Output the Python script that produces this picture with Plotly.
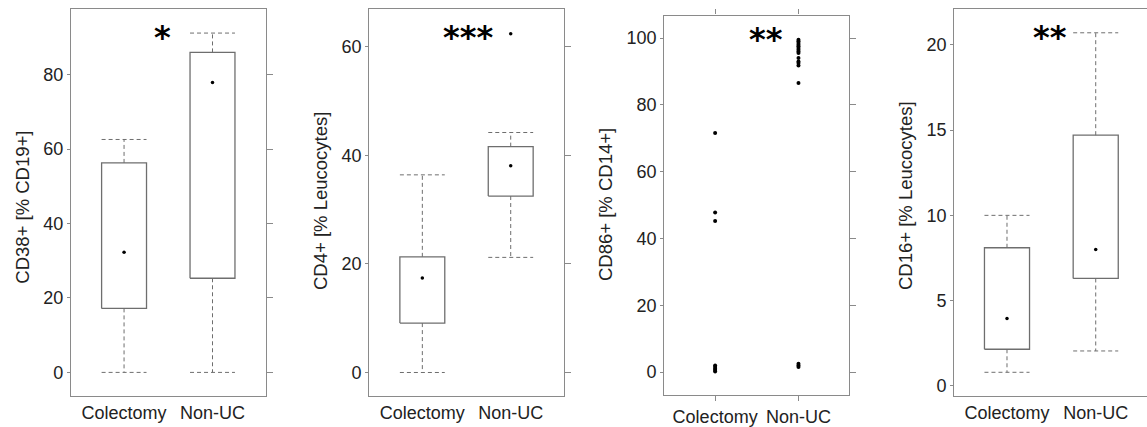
import plotly.graph_objects as go

groups = ["Colectomy", "Non-UC"]

# Panel 1: CD38+ [% CD19+]
p1_low = [0.0, 0.0]
p1_q1 = [17.2, 25.3]
p1_med = [32.3, 77.9]
p1_q3 = [56.3, 86.0]
p1_up = [62.6, 91.2]

# Panel 2: CD4+ [% Leucocytes]
p2_low = [0.0, 21.2]
p2_q1 = [9.1, 32.5]
p2_med = [17.4, 38.1]
p2_q3 = [21.3, 41.6]
p2_up = [36.4, 44.2]
p2_out_x = [2]
p2_out_y = [62.4]

# Panel 3: CD86+ [% CD14+] (individual points)
p3_colectomy = [71.6, 47.8, 45.2, 2.0, 1.5, 1.0, 0.6, 0.2]
p3_nonuc = [99.5, 99.0, 98.5, 98.0, 97.5, 97.0, 96.5, 96.0, 95.5,
            94.0, 93.0, 92.5, 91.8, 86.5, 2.5, 2.0, 1.5]

# Panel 4: CD16+ [% Leucocytes]
p4_low = [0.8, 2.05]
p4_q1 = [2.15, 6.3]
p4_med = [3.95, 8.0]
p4_q3 = [8.1, 14.7]
p4_up = [10.0, 20.7]

titles = ["CD38+ [% CD19+]", "CD4+ [% Leucocytes]", "CD86+ [% CD14+]", "CD16+ [% Leucocytes]"]
stars = ["*", "***", "**", "**"]

W, H = 1147, 427
FONT = "Liberation Sans, Arial, Helvetica, sans-serif"
LINE = "#6e6e6e"
FRAME = "#8a8a8a"
TXT = "#222222"
HW = 0.254

fig = go.Figure()

def add_box(ax, low, q1, med, q3, up):
    xa, ya = "x" + ax, "y" + ax
    for i in range(len(groups)):
        c = i + 1
        fig.add_trace(go.Scatter(x=[c - HW, c + HW, c + HW, c - HW, c - HW],
                                 y=[q1[i], q1[i], q3[i], q3[i], q1[i]],
                                 mode="lines", line=dict(color=LINE, width=1.3),
                                 xaxis=xa, yaxis=ya, showlegend=False, hoverinfo="skip"))
        for yy in ([q3[i], up[i]], [q1[i], low[i]]):
            fig.add_trace(go.Scatter(x=[c, c], y=yy, mode="lines",
                                     line=dict(color=LINE, width=1, dash="4px,3px"),
                                     xaxis=xa, yaxis=ya, showlegend=False, hoverinfo="skip"))
        for yy in (up[i], low[i]):
            fig.add_trace(go.Scatter(x=[c - HW, c + HW], y=[yy, yy], mode="lines",
                                     line=dict(color=LINE, width=1, dash="4px,3px"),
                                     xaxis=xa, yaxis=ya, showlegend=False, hoverinfo="skip"))
    fig.add_trace(go.Scatter(x=[1, 2], y=med, mode="markers",
                             marker=dict(color="black", size=3.5),
                             xaxis=xa, yaxis=ya, showlegend=False))

add_box("", p1_low, p1_q1, p1_med, p1_q3, p1_up)
add_box("2", p2_low, p2_q1, p2_med, p2_q3, p2_up)
fig.add_trace(go.Scatter(x=p2_out_x, y=p2_out_y, mode="markers",
                         marker=dict(color="black", size=3.5), xaxis="x2", yaxis="y2", showlegend=False))
fig.add_trace(go.Scatter(x=[1] * len(p3_colectomy), y=p3_colectomy, mode="markers",
                         marker=dict(color="black", size=4), xaxis="x3", yaxis="y3", showlegend=False))
fig.add_trace(go.Scatter(x=[2] * len(p3_nonuc), y=p3_nonuc, mode="markers",
                         marker=dict(color="black", size=4), xaxis="x3", yaxis="y3", showlegend=False))
add_box("4", p4_low, p4_q1, p4_med, p4_q3, p4_up)

frames = [(71, 266, 9.3, 397.7), (369.3, 564, 9.3, 397.7),
          (664.3, 849.3, 15.7, 396.7), (954.3, 1147, 9.3, 397.7)]
xranges = [[0.40, 2.605], [0.40, 2.603], [0.39, 2.61], [0.406, 2.578]]
yranges = [[-6.3, 97.6], [-4.3, 66.9], [-6.8, 106.7], [-0.58, 22.08]]
yticks = [[0, 20, 40, 60, 80], [0, 20, 40, 60], [0, 20, 40, 60, 80, 100], [0, 5, 10, 15, 20]]
title_x = [21.7, 320, 605, 905]
title_y = [208, 202, 206, 197]
star_x = [1.44, 1.52, 1.61, 1.485]
star_y = [37, 37, 39, 37]

layout = dict(width=W, height=H, margin=dict(l=0, r=0, t=0, b=0),
              paper_bgcolor="white", plot_bgcolor="white",
              font=dict(family=FONT, color=TXT, size=18), showlegend=False)
annotations = []
for k in range(4):
    n = "" if k == 0 else str(k + 1)
    x0, x1, yt, yb = frames[k]
    xd = [x0 / W, min(x1 / W, 1.0)]
    yd = [(H - yb) / H, (H - yt) / H]
    last = (k == 3)
    layout["xaxis" + n] = dict(domain=xd, range=xranges[k], anchor="y" + n,
                               tickvals=[1, 2], ticktext=groups,
                               showline=True, linecolor=FRAME, linewidth=1.3, mirror=("ticks" if k == 2 else True),
                               ticks=("outside" if k == 2 else ""), ticklen=5, tickcolor=FRAME,
                               showgrid=False, zeroline=False, fixedrange=True,
                               tickfont=dict(size=18, color=TXT))
    layout["yaxis" + n] = dict(domain=yd, range=yranges[k], anchor="x" + n,
                               tickvals=yticks[k], showline=True, linecolor=FRAME, linewidth=1.3,
                               mirror=(False if last else True), ticks="outside", ticklen=3, tickcolor=FRAME,
                               showgrid=False, zeroline=False, fixedrange=True,
                               tickfont=dict(size=18, color=TXT))
    if not last:
        ra = "yaxis" + str(k + 5)
        layout[ra] = dict(domain=yd, range=yranges[k], overlaying="y" + n, anchor="x" + n, side="right",
                          tickvals=yticks[k], showticklabels=False, ticks="outside", ticklen=6,
                          tickcolor=FRAME, showline=False, showgrid=False, zeroline=False, fixedrange=True)
    annotations.append(dict(text=titles[k], x=title_x[k] / W, y=(H - title_y[k]) / H,
                            xref="paper", yref="paper", textangle=-90, showarrow=False,
                            xanchor="center", yanchor="middle", font=dict(size=18.5, color=TXT)))
    annotations.append(dict(text="<b>" + stars[k] + "</b>", x=star_x[k], xref="x" + n,
                            y=(H - star_y[k]) / H, yref="paper",
                            showarrow=False, xanchor="center", yanchor="middle",
                            font=dict(size=32, color="black", family="DejaVu Sans")))

layout["annotations"] = annotations
fig.update_layout(**layout)
for k in range(3):
    fig.add_trace(go.Scatter(x=[None], y=[None], xaxis="x" + ("" if k == 0 else str(k + 1)),
                             yaxis="y" + str(k + 5), showlegend=False, hoverinfo="skip"))

fig.write_html("out.html")
